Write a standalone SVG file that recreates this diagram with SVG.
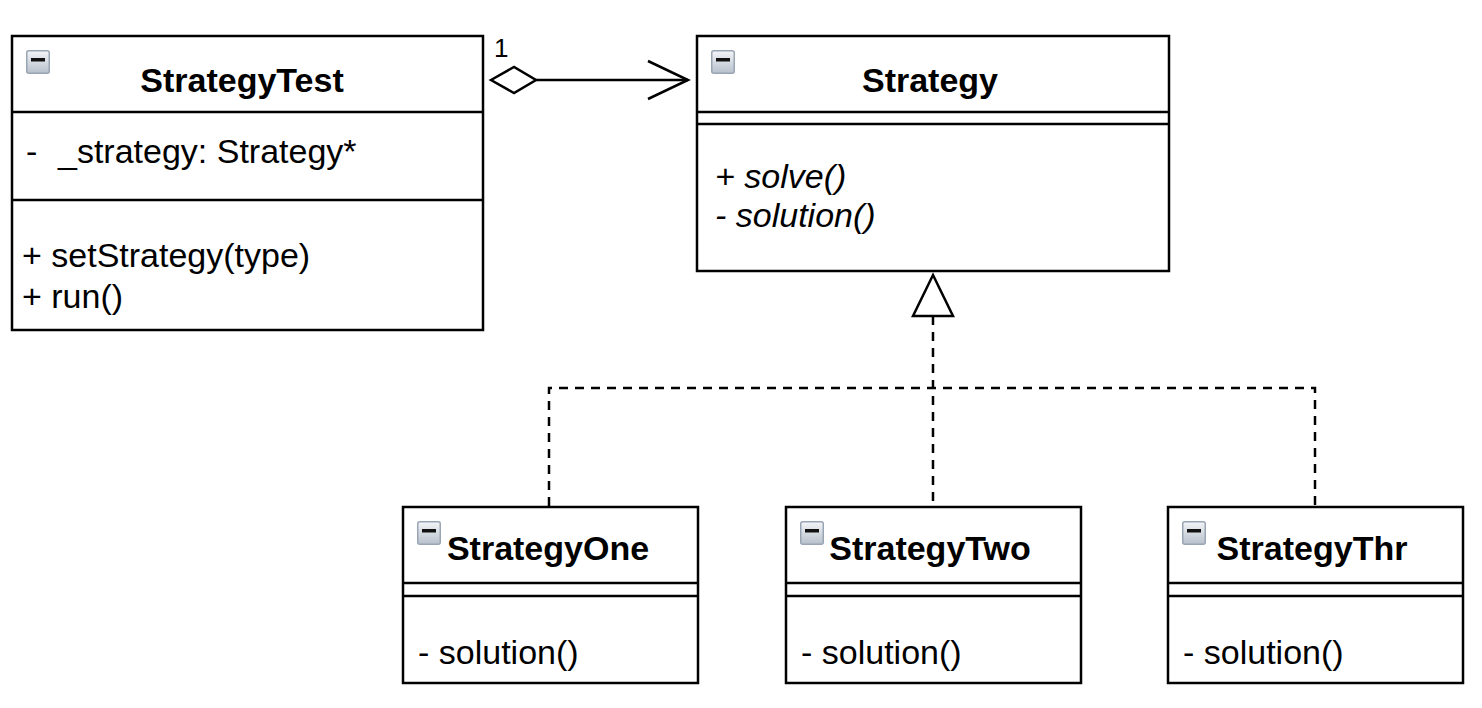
<svg xmlns="http://www.w3.org/2000/svg" width="1482" height="708" viewBox="0 0 1482 708">
  <style>
    .box { fill: #ffffff; stroke: #000000; stroke-width: 2.5; }
    .div { stroke: #000000; stroke-width: 2.5; fill: none; }
    .title { font-family: "Liberation Sans", Arial, Helvetica, sans-serif; font-size: 34px; font-weight: bold; fill: #000000; text-anchor: middle; }
    .member { font-family: "Liberation Sans", Arial, Helvetica, sans-serif; font-size: 34px; fill: #000000; }
    .abstract { font-style: italic; }
    .edge { stroke: #000000; stroke-width: 2.5; fill: none; }
    .dash { stroke: #000000; stroke-width: 2.5; fill: none; stroke-dasharray: 9 7; }
    .head { stroke: #000000; stroke-width: 2.5; fill: #ffffff; stroke-linejoin: miter; }
    .mult { font-family: "Liberation Sans", Arial, Helvetica, sans-serif; font-size: 26px; fill: #000000; }
  </style>
  <defs>
    <linearGradient id="iconFill" x1="0" y1="0" x2="0" y2="1">
      <stop offset="0" stop-color="#f3f5f8"/>
      <stop offset="1" stop-color="#b7c0cc"/>
    </linearGradient>
    <!-- collapse toggle shown in each class header -->
    <g id="toggle">
      <rect x="0.75" y="0.75" width="22.5" height="22.5" rx="2" fill="url(#iconFill)" stroke="#9aa5b4" stroke-width="1.5"/>
      <rect x="5" y="8" width="14" height="3.5" fill="#111111"/>
    </g>
  </defs>

  <rect width="1482" height="708" fill="#ffffff"/>

  <!-- connectors -->
  <g id="connectors">
    <!-- aggregation StrategyTest -> Strategy -->
    <line class="edge" x1="536" y1="80" x2="688" y2="80"/>
    <polygon class="head" points="491,80 514,67 536,80 514,93"/>
    <polyline class="edge" points="648,61 688,80 648,99"/>
    <text class="mult" x="494" y="57">1</text>
    <!-- realizations of Strategy -->
    <line class="dash" x1="933" y1="316" x2="933" y2="506"/>
    <polyline class="dash" points="549,506 549,388 1315,388 1315,506"/>
    <polygon class="head" points="933,275 953,316 913,316"/>
  </g>

  <!-- StrategyTest -->
  <g id="StrategyTest">
    <rect class="box" x="12" y="36" width="471" height="294"/>
    <line class="div" x1="12" y1="112" x2="483" y2="112"/>
    <line class="div" x1="12" y1="200" x2="483" y2="200"/>
    <use href="#toggle" x="26" y="50"/>
    <text class="title" x="242" y="92">StrategyTest</text>
    <text class="member" x="26" y="163">-</text>
    <text class="member" x="58" y="163">_strategy: Strategy*</text>
    <text class="member" x="22" y="267">+ setStrategy(type)</text>
    <text class="member" x="22" y="308">+ run()</text>
  </g>

  <!-- Strategy -->
  <g id="Strategy">
    <rect class="box" x="697" y="36" width="472" height="235"/>
    <line class="div" x1="697" y1="112" x2="1169" y2="112"/>
    <line class="div" x1="697" y1="124" x2="1169" y2="124"/>
    <use href="#toggle" x="711" y="50"/>
    <text class="title" x="930" y="92">Strategy</text>
    <text class="member abstract" x="715" y="188">+ solve()</text>
    <text class="member abstract" x="715" y="227">- solution()</text>
  </g>

  <!-- StrategyOne -->
  <g id="StrategyOne">
    <rect class="box" x="403" y="507" width="295" height="176"/>
    <line class="div" x1="403" y1="583" x2="698" y2="583"/>
    <line class="div" x1="403" y1="596" x2="698" y2="596"/>
    <use href="#toggle" x="417" y="521"/>
    <text class="title" x="548" y="560">StrategyOne</text>
    <text class="member" x="418" y="664">- solution()</text>
  </g>

  <!-- StrategyTwo -->
  <g id="StrategyTwo">
    <rect class="box" x="786" y="507" width="295" height="176"/>
    <line class="div" x1="786" y1="583" x2="1081" y2="583"/>
    <line class="div" x1="786" y1="596" x2="1081" y2="596"/>
    <use href="#toggle" x="800" y="521"/>
    <text class="title" x="930" y="560">StrategyTwo</text>
    <text class="member" x="801" y="664">- solution()</text>
  </g>

  <!-- StrategyThr -->
  <g id="StrategyThr">
    <rect class="box" x="1168" y="507" width="295" height="176"/>
    <line class="div" x1="1168" y1="583" x2="1463" y2="583"/>
    <line class="div" x1="1168" y1="596" x2="1463" y2="596"/>
    <use href="#toggle" x="1182" y="521"/>
    <text class="title" x="1312" y="560">StrategyThr</text>
    <text class="member" x="1183" y="664">- solution()</text>
  </g>
</svg>
